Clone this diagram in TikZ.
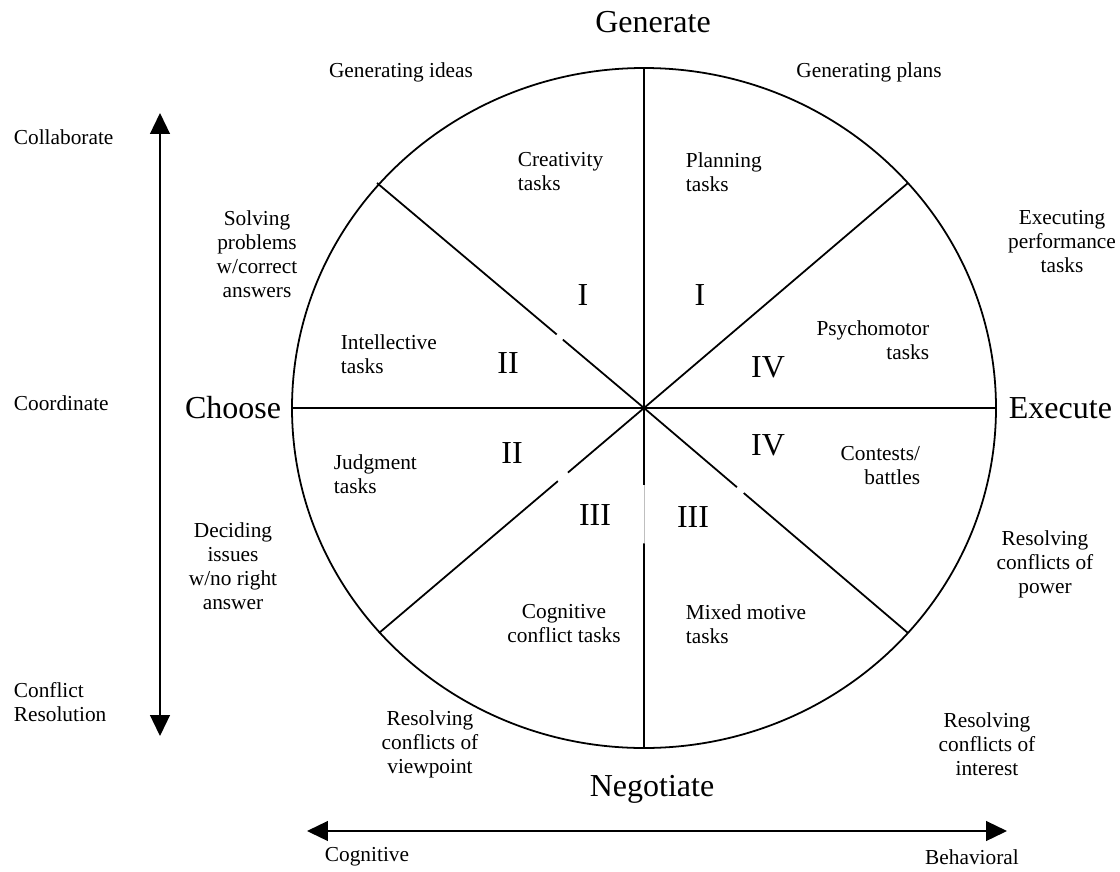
\documentclass[tikz,border=0pt]{standalone}
\usepackage{fontspec}
\setmainfont{Liberation Serif}
\usetikzlibrary{arrows.meta,calc}

\tikzset{
    label/.style={font=\fontsize{12}{13.5}\selectfont, align=center, inner sep=0pt},
    pole/.style={font=\fontsize{18}{20}\selectfont, inner sep=0pt},
    numeral/.style={font=\fontsize{18}{20}\selectfont, inner sep=0pt},
    axis/.style={line width=0.85pt,
        {Triangle[length=11.8pt,width=11.2pt]}-{Triangle[length=11.8pt,width=11.2pt]}}
}

\begin{document}
\begin{tikzpicture}[x=0.5625pt, y=-0.5625pt, line width=1pt]
    \useasboundingbox (0,0) rectangle (1120,872);

    % Wheel
    \coordinate (O) at (644,408);
    \coordinate (T) at (644,68);
    \coordinate (B) at (644,748);
    \coordinate (L) at (292,408);
    \coordinate (R) at (996,408);
    \coordinate (UL) at (377,183);
    \coordinate (UR) at (908,183);
    \coordinate (LL) at (379,633);
    \coordinate (LR) at (908,633);

    \draw (O) ellipse [x radius=352, y radius=340];
    \draw (L) -- (R);
    \draw (T) -- ($(O)!0.226!(B)$);
    \draw ($(O)!0.398!(B)$) -- (B);
    \draw[gray!50, line width=0.4pt] ($(O)!0.226!(B)$) -- ($(O)!0.398!(B)$);
    \draw (O) -- ($(O)!0.304!(UL)$) ($(O)!0.327!(UL)$) -- (UL);
    \draw (O) -- (UR);
    \draw (O) -- ($(O)!0.287!(LL)$) ($(O)!0.325!(LL)$) -- (LL);
    \draw (O) -- ($(O)!0.352!(LR)$) ($(O)!0.378!(LR)$) -- (LR);

    % Poles
    \node[pole] (generate) at (653,22) {Generate};
    \node[pole] (negotiate) at (652,789) {Negotiate};
    \node[pole, anchor=east] (choose) at (282,408) {Choose};
    \node[pole, anchor=west] (execute) at (1008,408) {Execute};

    % Quadrant numerals
    \node[numeral] (q1a) at (583,295) {I};
    \node[numeral] (q1b) at (700,295) {I};
    \node[numeral] (q2a) at (508,363) {II};
    \node[numeral] (q2b) at (512,453) {II};
    \node[numeral] (q3a) at (595,515) {III};
    \node[numeral] (q3b) at (693,517) {III};
    \node[numeral] (q4a) at (768,367) {IV};
    \node[numeral] (q4b) at (768,445) {IV};

    % Task types inside
    \node[label, align=left, anchor=west] (creativity) at (517,172) {Creativity\\tasks};
    \node[label, align=left, anchor=west] (planning) at (685,172) {Planning\\tasks};
    \node[label, align=left, anchor=west] (intellective) at (340,354) {Intellective\\tasks};
    \node[label, align=right, anchor=east] (psychomotor) at (930,340) {Psychomotor\\tasks};
    \node[label, align=left, anchor=west] (judgment) at (333,474) {Judgment\\tasks};
    \node[label, align=right, anchor=east] (contests) at (921,466) {Contests/\\battles};
    \node[label] (cogconflict) at (564,624) {Cognitive\\conflict tasks};
    \node[label, align=left, anchor=west] (mixed) at (685,624) {Mixed motive\\tasks};

    % Processes outside
    \node[label] (ideas) at (401,72) {Generating ideas};
    \node[label] (plans) at (869,72) {Generating plans};
    \node[label] (solving) at (257,254) {Solving\\problems\\w/correct\\answers};
    \node[label] (executing) at (1062,242) {Executing\\performance\\tasks};
    \node[label] (deciding) at (233,566) {Deciding\\issues\\w/no right\\answer};
    \node[label] (power) at (1045,564) {Resolving\\conflicts of\\power};
    \node[label] (viewpoint) at (430,744) {Resolving\\conflicts of\\viewpoint};
    \node[label] (interest) at (987,744) {Resolving\\conflicts of\\interest};

    % Axes
    \coordinate (up) at (160,113);
    \coordinate (down) at (160,736);
    \draw[axis] (down) -- (up);
    \node[label, anchor=west] (collaborate) at (13,137) {Collaborate};
    \node[label, anchor=west] (coordinate) at (13,403) {Coordinate};
    \node[label, align=left, anchor=west] (resolution) at (13,702) {Conflict\\Resolution};

    \coordinate (left) at (307,831);
    \coordinate (right) at (1007,831);
    \draw[axis] (left) -- (right);
    \node[label] (cognitive) at (367,857) {Cognitive};
    \node[label] (behavioral) at (972,857) {Behavioral};
\end{tikzpicture}
\end{document}
